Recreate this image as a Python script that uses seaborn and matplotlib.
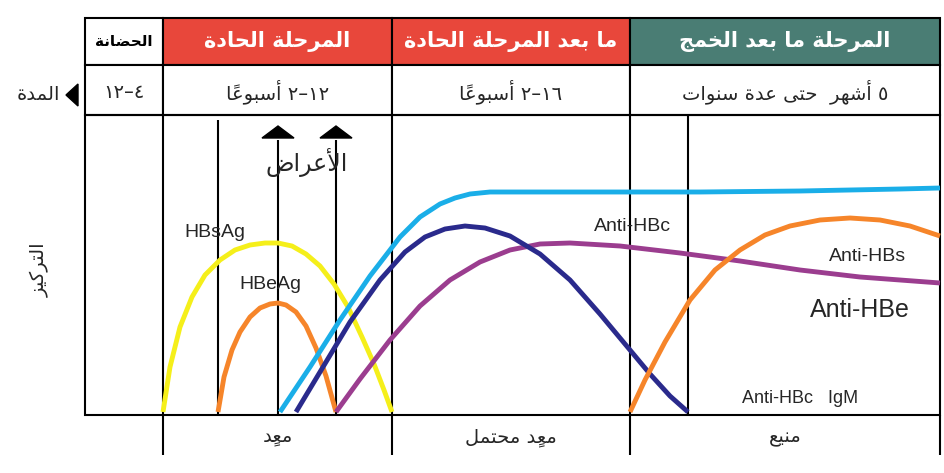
import numpy as np
import matplotlib
matplotlib.use("Agg")
import matplotlib.pyplot as plt
import seaborn as sns
from matplotlib.patches import Rectangle, Polygon

# ---- minimal Arabic shaping (matplotlib has no complex text layout) ----
FORMS = {
 'ا':(0xFE8D,0xFE8E,None,None),'أ':(0xFE83,0xFE84,None,None),
 'ب':(0xFE8F,0xFE90,0xFE91,0xFE92),'ة':(0xFE93,0xFE94,None,None),
 'ت':(0xFE95,0xFE96,0xFE97,0xFE98),'ج':(0xFE9D,0xFE9E,0xFE9F,0xFEA0),
 'ح':(0xFEA1,0xFEA2,0xFEA3,0xFEA4),'خ':(0xFEA5,0xFEA6,0xFEA7,0xFEA8),
 'د':(0xFEA9,0xFEAA,None,None),'ر':(0xFEAD,0xFEAE,None,None),
 'ز':(0xFEAF,0xFEB0,None,None),'س':(0xFEB1,0xFEB2,0xFEB3,0xFEB4),
 'ش':(0xFEB5,0xFEB6,0xFEB7,0xFEB8),'ص':(0xFEB9,0xFEBA,0xFEBB,0xFEBC),
 'ض':(0xFEBD,0xFEBE,0xFEBF,0xFEC0),'ع':(0xFEC9,0xFECA,0xFECB,0xFECC),
 'ك':(0xFED9,0xFEDA,0xFEDB,0xFEDC),'ل':(0xFEDD,0xFEDE,0xFEDF,0xFEE0),
 'م':(0xFEE1,0xFEE2,0xFEE3,0xFEE4),'ن':(0xFEE5,0xFEE6,0xFEE7,0xFEE8),
 'ه':(0xFEE9,0xFEEA,0xFEEB,0xFEEC),'و':(0xFEED,0xFEEE,None,None),
 'ى':(0xFEEF,0xFEF0,None,None),'ي':(0xFEF1,0xFEF2,0xFEF3,0xFEF4),
}
LAMALEF = {'ا':(0xFEFB,0xFEFC),'أ':(0xFEF7,0xFEF8)}
MARKS = set('ًٌٍَُِّْ')

def shape(text):
    cl = []
    for ch in text:
        if ch in MARKS and cl:
            cl[-1][1] += ch
        else:
            cl.append([ch, ''])
    merged = []
    i = 0
    while i < len(cl):
        if cl[i][0] == 'ل' and i + 1 < len(cl) and cl[i+1][0] in LAMALEF:
            merged.append(['LA' + cl[i+1][0], cl[i][1] + cl[i+1][1]])
            i += 2
        else:
            merged.append(cl[i]); i += 1
    def joins_next(c):
        if c.startswith('LA'): return False
        f = FORMS.get(c); return f is not None and f[2] is not None
    def arabic(c):
        return c.startswith('LA') or c in FORMS
    out = []
    for k, (c, m) in enumerate(merged):
        prev = merged[k-1][0] if k > 0 else None
        nxt = merged[k+1][0] if k + 1 < len(merged) else None
        jp = prev is not None and joins_next(prev)
        jn = nxt is not None and arabic(nxt) and joins_next(c)
        if c.startswith('LA'):
            g = chr(LAMALEF[c[2]][1 if jp else 0])
        elif c in FORMS:
            f = FORMS[c]
            if jp and jn: g = chr(f[3])
            elif jp: g = chr(f[1])
            elif jn: g = chr(f[2])
            else: g = chr(f[0])
        else:
            g = c
        out.append((g + m, arabic(c) or c == ' '))
    runs, cur, cur_ar = [], [], None
    for g, ar in out:
        if cur and ar != cur_ar:
            runs.append((cur, cur_ar)); cur = []
        cur.append(g); cur_ar = ar
    if cur: runs.append((cur, cur_ar))
    res = []
    for r, ar in reversed(runs):
        res.append(''.join(reversed(r)) if ar else ''.join(r))
    return ''.join(res)

# ---- data ----
stages = ["الحضانة", "المرحلة الحادة", "ما بعد المرحلة الحادة", "المرحلة ما بعد الخمج"]
stage_edges = [85, 163, 392, 630, 940]
stage_colors = ["#ffffff", "#e8473b", "#e8473b", "#4a7d74"]
durations = ["١٢–٤", "٢–١٢ أسبوعاً", "٢–١٦ أسبوعاً", "٥ أشهر  حتى عدة سنوات"]
states = ["معدٍ", "معدٍ محتمل", "منيع"]
state_edges = [163, 392, 630, 940]
vlines = [163, 218, 278, 336, 392, 630, 688]

hbsag_x = [163, 170, 180, 192, 205, 220, 235, 250, 265, 278, 292, 306, 320, 334, 348, 362, 374, 384, 392]
hbsag_y = [0, 45, 85, 115, 137, 152, 162, 167, 169, 169, 166, 158, 146, 128, 105, 75, 48, 22, 0]
hbeag_x = [218, 224, 232, 240, 250, 260, 270, 278, 286, 296, 306, 316, 326, 336]
hbeag_y = [0, 35, 62, 80, 95, 104, 108, 109, 107, 100, 86, 64, 36, 0]
antihbc_x = [280, 310, 340, 370, 400, 420, 440, 455, 470, 490, 520, 600, 700, 800, 900, 940]
antihbc_y = [0, 45, 92, 136, 175, 195, 208, 214, 218, 220, 220, 220, 220, 221, 223, 224]
navy_x = [296, 320, 350, 380, 405, 425, 445, 465, 485, 510, 540, 570, 600, 625, 650, 670, 688]
navy_y = [0, 40, 90, 132, 160, 175, 183, 186, 184, 176, 158, 132, 98, 68, 38, 16, 0]
purple_x = [336, 360, 390, 420, 450, 480, 510, 540, 570, 620, 680, 740, 800, 860, 940]
purple_y = [0, 33, 72, 106, 132, 150, 162, 168, 169, 166, 159, 151, 142, 135, 129]
antihbs_x = [630, 645, 665, 690, 715, 740, 765, 790, 820, 850, 880, 910, 940]
antihbs_y = [0, 32, 70, 112, 142, 162, 177, 186, 192, 194, 192, 186, 176]

BASE = 412
def to_pix(ys):
    return [BASE - v for v in ys]

sns.set_theme(style="white")
fig = plt.figure(figsize=(9.45, 4.73), dpi=100)
ax = fig.add_axes([0, 0, 1, 1])
ax.set_xlim(0, 945); ax.set_ylim(473, 0); ax.axis("off")
AR = "DejaVu Sans"
LAT = "Liberation Sans"

for i, s in enumerate(stages):
    x0, x1 = stage_edges[i], stage_edges[i+1]
    ax.add_patch(Rectangle((x0, 18), x1 - x0, 47, facecolor=stage_colors[i], edgecolor="black", lw=1.5))
    ax.text((x0+x1)/2, 42, shape(s), ha="center", va="center", color="black" if i == 0 else "white",
            fontsize=11 if i == 0 else 15, fontweight="bold", family=AR)
    ax.add_patch(Rectangle((x0, 65), x1 - x0, 50, facecolor="white", edgecolor="black", lw=1.5))
    ax.text((x0+x1)/2, 92, shape(durations[i]), ha="center", va="center", fontsize=14, family=AR)
ax.text(38, 95, shape("المدة"), ha="center", va="center", fontsize=14, family=AR)
ax.add_patch(Polygon([[66, 95], [78, 84], [78, 106]], closed=True, color="black"))

ax.add_patch(Rectangle((85, 115), 855, 300, facecolor="none", edgecolor="black", lw=1.5))
for x in vlines:
    top = 115 if x not in (218, 278, 336) else (120 if x == 218 else 140)
    ax.plot([x, x], [top, 415], color="black", lw=1.5)
for x in state_edges:
    ax.plot([x, x], [415, 455], color="black", lw=1.5)
for i, s in enumerate(states):
    ax.text((state_edges[i]+state_edges[i+1])/2, 437, shape(s), ha="center", va="center", fontsize=14, family=AR)

for x in (278, 336):
    ax.add_patch(Polygon([[x-16, 138], [x+16, 138], [x, 126]], closed=True, color="black"))
ax.text(307, 162, shape("الأعراض"), ha="center", va="center", fontsize=17, family=AR)
ax.text(40, 270, shape("التركيز"), ha="center", va="center", rotation=90, fontsize=14, family=AR)

lw = 3.5
sns.lineplot(x=hbsag_x, y=to_pix(hbsag_y), ax=ax, color="#f5ef1a", lw=lw, sort=False)
sns.lineplot(x=hbeag_x, y=to_pix(hbeag_y), ax=ax, color="#f6852a", lw=lw, sort=False)
sns.lineplot(x=purple_x, y=to_pix(purple_y), ax=ax, color="#9b3d8f", lw=lw, sort=False)
sns.lineplot(x=antihbc_x, y=to_pix(antihbc_y), ax=ax, color="#1aaee8", lw=lw, sort=False)
sns.lineplot(x=navy_x, y=to_pix(navy_y), ax=ax, color="#2a2a8c", lw=lw, sort=False)
sns.lineplot(x=antihbs_x, y=to_pix(antihbs_y), ax=ax, color="#f6852a", lw=lw, sort=False)
for l in ax.lines:
    l.set_solid_capstyle("butt")
    l.set_solid_joinstyle("round")

ax.text(215, 232, "HBsAg", ha="center", va="center", fontsize=14, family=LAT)
ax.text(270, 284, "HBeAg", ha="center", va="center", fontsize=14, family=LAT)
ax.text(632, 226, "Anti-HBc", ha="center", va="center", fontsize=14, family=LAT)
ax.text(868, 256, "Anti-HBs", ha="center", va="center", fontsize=14, family=LAT)
ax.text(860, 310, "Anti-HBe", ha="center", va="center", fontsize=18, family=LAT)
ax.text(800, 398, "Anti-HBc   IgM", ha="center", va="center", fontsize=13, family=LAT)
ax.set_xlim(0, 945); ax.set_ylim(473, 0)

fig.savefig("out.png", dpi=100)
